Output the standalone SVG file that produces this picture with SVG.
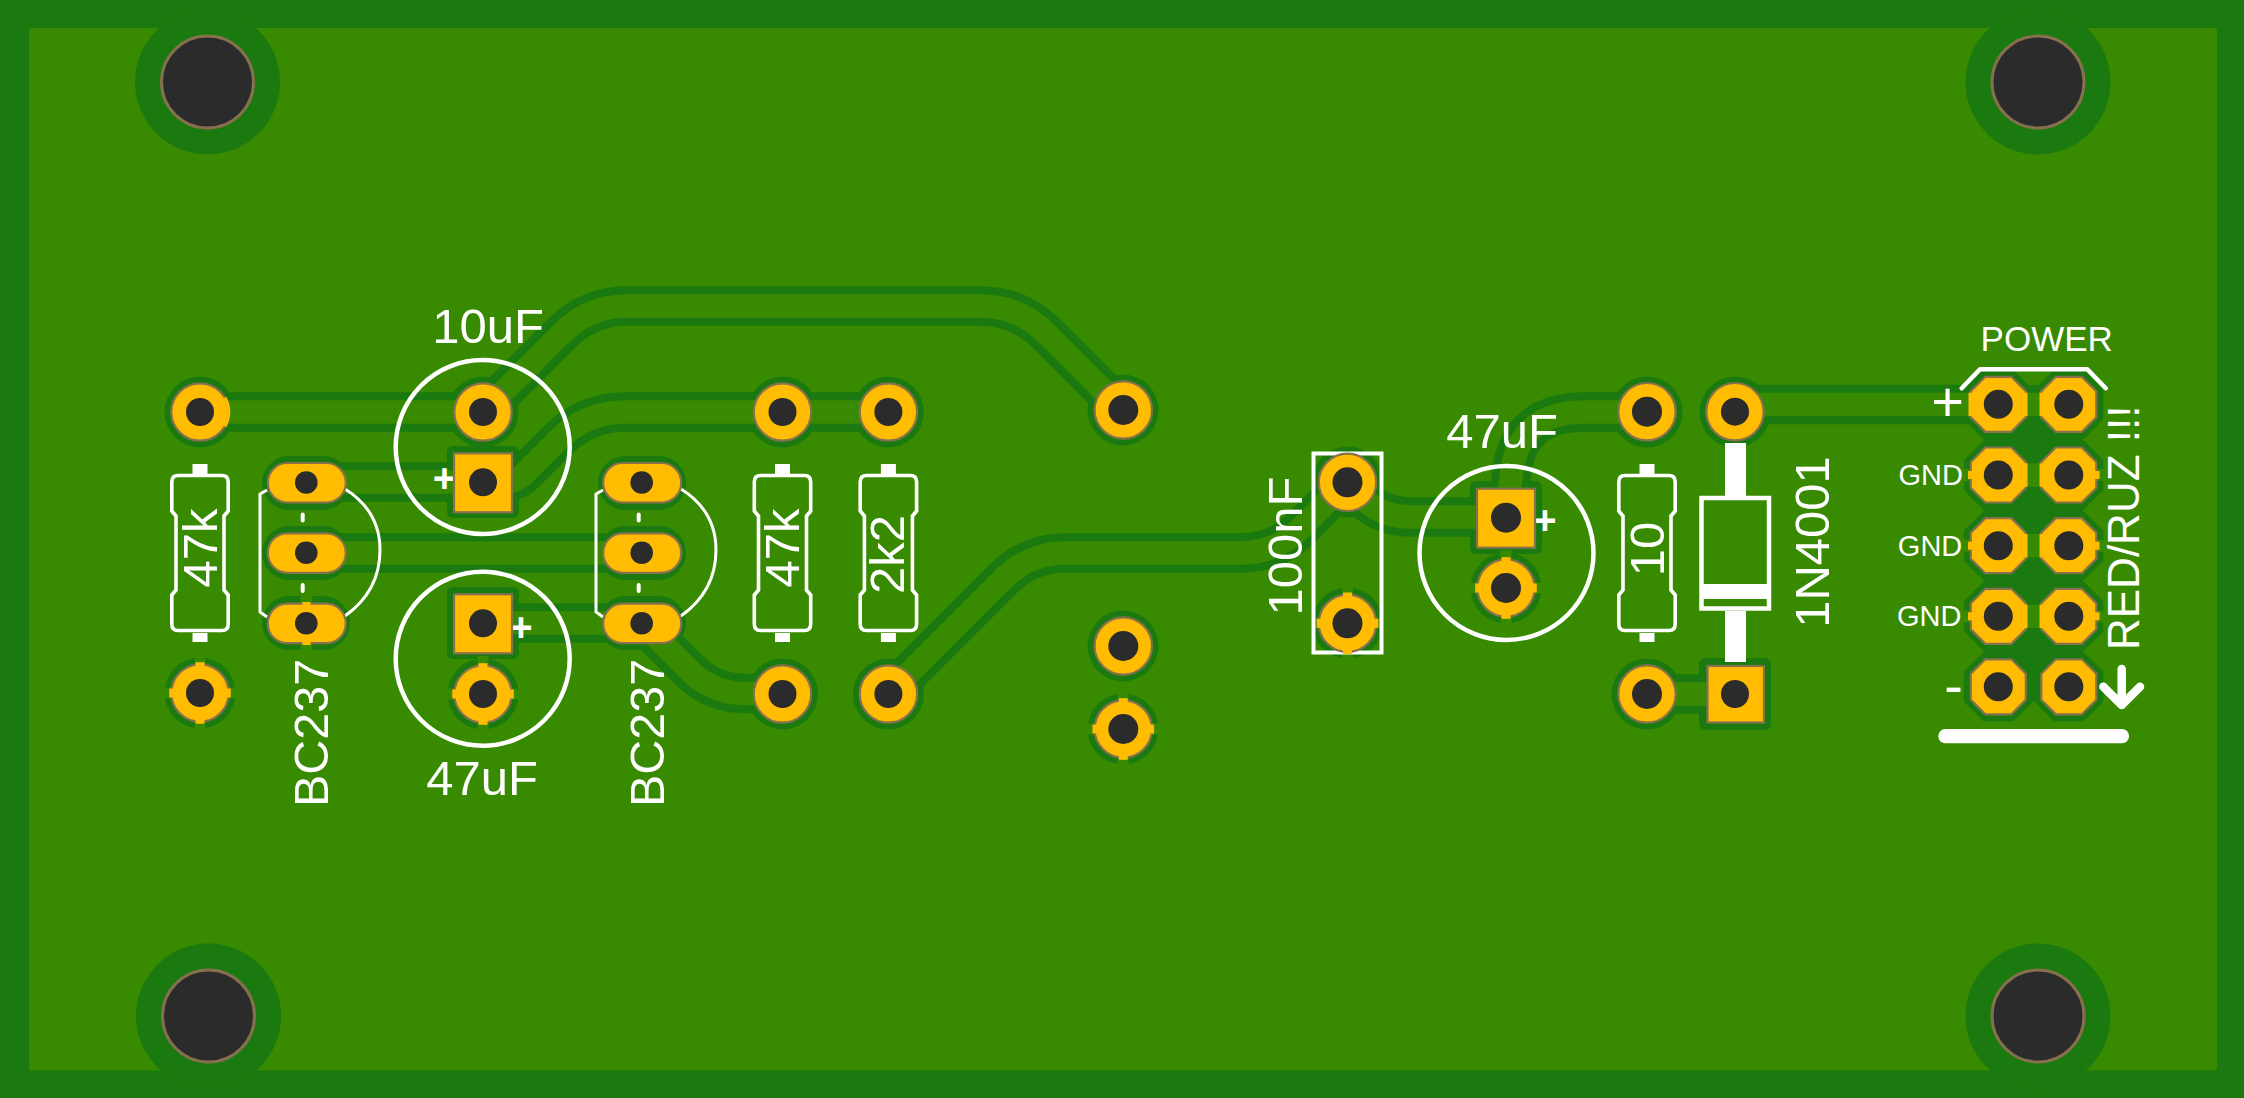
<svg xmlns="http://www.w3.org/2000/svg" width="2244" height="1098" viewBox="0 0 2244 1098">
<style>
.dk{fill:#1a7a0f}
.lt{fill:#388a00}
.yl{fill:#ffbc00}
.wh{fill:#fff}
.tdk{fill:none;stroke:#1a7a0f;stroke-width:39.5}
.tlt{fill:none;stroke:#388a00;stroke-width:23.5}
.ed{fill:#ffbc00;stroke:#87704d;stroke-width:2.2}
.en{fill:none;stroke:#ffbc00;stroke-width:3.2;stroke-dasharray:60 300}
.hole{fill:#2b2b2b}
.mh{fill:#2b2b2b;stroke:#87704d;stroke-width:3}
.s{fill:none;stroke:#fff;stroke-width:4}
.s3{fill:none;stroke:#fff;stroke-width:3}
.s5{fill:none;stroke:#fff;stroke-width:4.5;stroke-linecap:round;stroke-linejoin:round}
text{font-family:"Liberation Sans",Arial,sans-serif;fill:#fff}
.t{font-size:48.5px}
.tm{font-size:49px;text-anchor:middle}
.g{font-size:29px;text-anchor:end}
.p{font-size:40px;font-weight:bold;text-anchor:middle}
</style>
<defs>
<circle id="ha" r="35.5"/>
<g id="rp"><circle r="28.7" class="ed"/></g>
<rect id="sp" x="-29" y="-29" width="58" height="59" class="ed"/>
<rect id="ov" x="-38.5" y="-19.5" width="78" height="39.5" rx="19.5" class="ed"/>
<polygon id="oc" class="ed" points="-13,-27.5 13,-27.5 27.5,-13 27.5,13 13,27.5 -13,27.5 -27.5,13 -27.5,-13"/>
<polygon id="och" points="-15,-34.5 15,-34.5 34.5,-15 34.5,15 15,34.5 -15,34.5 -34.5,15 -34.5,-15"/>
<polygon id="ocg" points="-15,0 0,-15 71,-15 85,0 71,15 0,15"/>
<g id="res">
<path class="s" style="stroke-width:3.6" d="M-22-77.5H22Q28.2-77.5 28.2-71V-42L24-37V37L28.2 42V71Q28.2 77.5 22 77.5H-22Q-28.2 77.5-28.2 71V42L-24 37V-37L-28.2-42V-71Q-28.2-77.5-22-77.5Z"/>
<rect class="wh" x="-7.5" y="-89" width="15" height="10"/>
<rect class="wh" x="-7.5" y="80" width="15" height="9"/>
</g>
<g id="th"><rect class="yl" x="-4.5" y="-30.8" width="9" height="61.6"/><rect class="yl" x="-30.8" y="-4.5" width="61.6" height="9"/></g>
<g id="ths"><rect class="lt" x="-5.5" y="-38" width="11" height="76"/><rect class="lt" x="-38" y="-5.5" width="76" height="11"/></g>
<g id="bcs">
<path class="s3" d="M7-66L0-62V56L7 61"/>
<path class="s3" d="M85-67Q120-45 120-6Q120 35 85 60"/>
<rect class="wh" x="40.7" y="-43.5" width="4" height="10" rx="2"/>
<rect class="wh" x="40.7" y="27" width="4" height="10" rx="2"/>
</g>
</defs>

<g id="board">
<rect class="dk" width="2244" height="1098"/>
<rect class="lt" x="29" y="28" width="2188" height="1042.5" rx="3"/>
</g>

<g id="clearance">
<circle class="dk" cx="207.5" cy="82" r="72.5"/>
<circle class="dk" cx="2038" cy="82" r="72.5"/>
<circle class="dk" cx="208.5" cy="1016" r="72.5"/>
<circle class="dk" cx="2038" cy="1016" r="72.5"/>
<g class="dk">
<use href="#ha" x="200" y="412"/><use href="#ha" x="200" y="693"/>
<use href="#ha" x="483" y="412"/><use href="#ha" x="483" y="694"/>
<use href="#ha" x="782.5" y="412"/><use href="#ha" x="782.5" y="694"/>
<use href="#ha" x="888.4" y="412"/><use href="#ha" x="888.4" y="694"/>
<use href="#ha" x="1123" y="410"/><use href="#ha" x="1123" y="646"/><use href="#ha" x="1123" y="729"/>
<use href="#ha" x="1347.5" y="482"/><use href="#ha" x="1347.5" y="623"/>
<use href="#ha" x="1506" y="588"/>
<use href="#ha" x="1647" y="412"/><use href="#ha" x="1647" y="694"/>
<use href="#ha" x="1735" y="412"/>
<rect x="447" y="446" width="72" height="72" rx="6"/>
<rect x="447" y="587" width="72" height="72" rx="6"/>
<rect x="1470" y="481" width="72" height="73" rx="6"/>
<rect x="1699" y="658" width="72" height="72" rx="6"/>
<rect x="262" y="456" width="88" height="54" rx="27"/>
<rect x="262" y="526" width="88" height="54" rx="27"/>
<rect x="262" y="596" width="88" height="54" rx="27"/>
<rect x="598" y="456" width="88" height="54" rx="27"/>
<rect x="598" y="526" width="88" height="54" rx="27"/>
<rect x="598" y="596" width="88" height="54" rx="27"/>
<rect x="2028" y="385" width="11" height="316"/>
<use href="#ocg" x="1998" y="439.6"/><use href="#ocg" x="1998" y="510.3"/><use href="#ocg" x="1998" y="581"/><use href="#ocg" x="1998" y="651.5"/>
<use href="#och" x="1998.3" y="404.3"/><use href="#och" x="2068.8" y="404.3"/>
<use href="#och" x="1998.3" y="475"/><use href="#och" x="2068.8" y="475"/>
<use href="#och" x="1998.3" y="545.7"/><use href="#och" x="2068.8" y="545.7"/>
<use href="#och" x="1998.3" y="616.3"/><use href="#och" x="2068.8" y="616.3"/>
<use href="#och" x="1998.3" y="686.8"/><use href="#och" x="2068.8" y="686.8"/>
</g>
</g>

<g id="connectors">
<g class="tdk">
<path d="M200 412H483L562 333Q589 306 627 306H980Q1019 306 1046 333L1123 410"/>
<path d="M306 482H505Q516 482 525 473L558 440Q586 412 625 412H888"/>
<path d="M306 553H642"/>
<path d="M483 623H642"/>
<path d="M642 623L690 671Q713 693.5 745 693.5H782"/>
<path d="M888 694L1003 579Q1029 553 1065 553H1240Q1276 553 1300 529L1347 482"/>
<path d="M1347 482L1362 497Q1380 517 1412 517H1506"/>
<path d="M1506 517L1512 470Q1520 412 1585 412H1647"/>
<path d="M1647 694H1735"/>
<path d="M1735 404.5H1998"/>
</g>
<g class="tlt">
<path d="M200 412H483L562 333Q589 306 627 306H980Q1019 306 1046 333L1123 410"/>
<path d="M306 482H505Q516 482 525 473L558 440Q586 412 625 412H888"/>
<path d="M306 553H642"/>
<path d="M483 623H642"/>
<path d="M642 623L690 671Q713 693.5 745 693.5H782"/>
<path d="M888 694L1003 579Q1029 553 1065 553H1240Q1276 553 1300 529L1347 482"/>
<path d="M1347 482L1362 497Q1380 517 1412 517H1506"/>
<path d="M1506 517L1512 470Q1520 412 1585 412H1647"/>
<path d="M1647 694H1735"/>
<path d="M1735 404.5H1998"/>
</g>
</g>

<g id="thermals">
<use href="#ths" x="200" y="693"/>
<use href="#ths" x="483" y="694"/>
<use href="#ths" x="1123" y="729"/>
<use href="#ths" x="1347.5" y="623"/>
<use href="#ths" x="1506" y="588"/>
<rect class="lt" x="300.5" y="596" width="12" height="54"/>
<rect class="lt" x="1963" y="469" width="8" height="12"/><rect class="lt" x="2096" y="469" width="8" height="12"/>
<rect class="lt" x="1963" y="539.7" width="8" height="12"/><rect class="lt" x="2096" y="539.7" width="8" height="12"/>
<rect class="lt" x="1963" y="610.3" width="8" height="12"/><rect class="lt" x="2096" y="610.3" width="8" height="12"/>
<rect class="lt" x="2027" y="392.7" width="13" height="23.4"/>
<rect class="lt" x="2027" y="463.3" width="13" height="23.4"/>
<rect class="lt" x="2027" y="534" width="13" height="23.4"/>
<rect class="lt" x="2027" y="604.6" width="13" height="23.4"/>
</g>

<g id="H1"><circle class="mh" cx="207.5" cy="82" r="46"/></g>
<g id="H2"><circle class="mh" cx="2038" cy="82" r="46"/></g>
<g id="H3"><circle class="mh" cx="208.5" cy="1016" r="46"/></g>
<g id="H4"><circle class="mh" cx="2038" cy="1016" r="46"/></g>

<g id="R1">
<use href="#res" x="200" y="553"/>
<text class="tm" transform="translate(217 548) rotate(-90)">47k</text>
<use href="#rp" x="200" y="412"/><circle class="en" pathLength="360" transform="translate(200 412) rotate(-30)" r="28.7"/><circle class="hole" cx="200" cy="412" r="14"/>
<use href="#rp" x="200" y="693"/><use href="#th" x="200" y="693"/><circle class="hole" cx="200" cy="693" r="14"/>
</g>

<g id="Q1">
<use href="#bcs" x="260" y="556"/>
<text class="t" transform="translate(328 807) rotate(-90)">BC237</text>
<use href="#ov" x="306.3" y="482.5"/><circle class="hole" cx="306.3" cy="482.5" r="11.3"/>
<use href="#ov" x="306.3" y="552.8"/><circle class="hole" cx="306.3" cy="552.8" r="11.3"/>
<use href="#ov" x="306.3" y="623.2"/><rect class="yl" x="302.5" y="602" width="8" height="43"/><circle class="hole" cx="306.3" cy="623.2" r="11.3"/>
</g>

<g id="C1">
<circle class="s" style="stroke-width:4.5" cx="482.7" cy="447" r="87"/>
<text class="tm" x="488" y="343">10uF</text>
<text class="p" x="444.4" y="492">+</text>
<use href="#rp" x="483" y="412"/><circle class="hole" cx="483" cy="412" r="14"/>
<use href="#sp" x="483" y="482.3"/><circle class="hole" cx="483" cy="482.3" r="14"/>
</g>

<g id="C2">
<circle class="s" style="stroke-width:4.5" cx="482.7" cy="658.7" r="87"/>
<text class="tm" x="482" y="795">47uF</text>
<text class="p" x="521" y="641">+</text>
<use href="#sp" x="483" y="623.3"/><circle class="hole" cx="483" cy="623.3" r="14"/>
<use href="#rp" x="483" y="694"/><use href="#th" x="483" y="694"/><circle class="hole" cx="483" cy="694" r="14"/>
</g>

<g id="Q2">
<use href="#bcs" x="596" y="556"/>
<text class="t" transform="translate(664 807) rotate(-90)">BC237</text>
<use href="#ov" x="641.7" y="482.5"/><circle class="hole" cx="641.7" cy="482.5" r="11.3"/>
<use href="#ov" x="641.7" y="552.8"/><circle class="hole" cx="641.7" cy="552.8" r="11.3"/>
<use href="#ov" x="641.7" y="623.2"/><circle class="hole" cx="641.7" cy="623.2" r="11.3"/>
</g>

<g id="R2">
<use href="#res" x="782.5" y="553"/>
<text class="tm" transform="translate(799 548) rotate(-90)">47k</text>
<use href="#rp" x="782.5" y="412"/><circle class="hole" cx="782.5" cy="412" r="14"/>
<use href="#rp" x="782.5" y="694"/><circle class="hole" cx="782.5" cy="694" r="14"/>
</g>

<g id="R3">
<use href="#res" x="888.4" y="553"/>
<text class="tm" transform="translate(904 554.5) rotate(-90)">2k2</text>
<use href="#rp" x="888.4" y="412"/><circle class="hole" cx="888.4" cy="412" r="14"/>
<use href="#rp" x="888.4" y="694"/><circle class="hole" cx="888.4" cy="694" r="14"/>
</g>

<g id="TP1"><use href="#rp" x="1123.3" y="410"/><circle class="hole" cx="1123.3" cy="410" r="15"/></g>
<g id="TP2"><use href="#rp" x="1123.3" y="646"/><circle class="hole" cx="1123.3" cy="646" r="15"/></g>
<g id="TP3"><use href="#rp" x="1123.3" y="729"/><use href="#th" x="1123.3" y="729"/><circle class="hole" cx="1123.3" cy="729" r="15"/></g>

<g id="C3">
<rect class="s" x="1313.5" y="453.5" width="68" height="199"/>
<text class="tm" transform="translate(1302 546) rotate(-90)">100nF</text>
<use href="#rp" x="1347.5" y="482.3"/><circle class="hole" cx="1347.5" cy="482.3" r="15"/>
<use href="#rp" x="1347.5" y="623.3"/><use href="#th" x="1347.5" y="623.3"/><circle class="hole" cx="1347.5" cy="623.3" r="15"/>
</g>

<g id="C4">
<circle class="s" style="stroke-width:4.5" cx="1506.5" cy="553" r="87"/>
<text class="tm" x="1502" y="448">47uF</text>
<text class="p" x="1545" y="534">+</text>
<use href="#sp" x="1506" y="517.7"/><circle class="hole" cx="1506" cy="517.7" r="15"/>
<use href="#rp" x="1506" y="588"/><use href="#th" x="1506" y="588"/><circle class="hole" cx="1506" cy="588" r="15"/>
</g>

<g id="R4">
<use href="#res" x="1647" y="553"/>
<text class="tm" transform="translate(1664 549) rotate(-90)">10</text>
<use href="#rp" x="1647" y="411.7"/><circle class="hole" cx="1647" cy="411.7" r="15"/>
<use href="#rp" x="1647" y="694"/><circle class="hole" cx="1647" cy="694" r="15"/>
</g>

<g id="D1">
<rect class="wh" x="1725" y="443" width="21" height="53"/>
<rect class="wh" x="1725" y="611" width="21" height="51"/>
<rect class="s" style="stroke-width:4.5" x="1701.5" y="498" width="67.5" height="110.5"/>
<rect class="wh" x="1701.5" y="584" width="67.5" height="15"/>
<text class="tm" transform="translate(1829 542) rotate(-90)">1N4001</text>
<use href="#rp" x="1735" y="411.7"/><circle class="hole" cx="1735" cy="411.7" r="14"/>
<rect class="ed" x="1707.5" y="666" width="56.5" height="56.5"/><circle class="hole" cx="1735" cy="694" r="14"/>
</g>

<g id="J1">
<path class="s5" d="M1961.7 388.3L1980 369.3H2087.3L2105.7 388.3"/>
<text x="2046.7" y="350.7" style="font-size:35px;text-anchor:middle">POWER</text>
<text x="1947.7" y="421" style="font-size:56px;text-anchor:middle">+</text>
<text class="g" x="1963" y="485">GND</text>
<text class="g" x="1962.3" y="555.7">GND</text>
<text class="g" x="1961.5" y="625.7">GND</text>
<text x="1953.6" y="705" style="font-size:56px;text-anchor:middle">-</text>
<text transform="translate(2139.3 650) rotate(-90)" style="font-size:44px">RED/RUZ !!!</text>
<path d="M2121.7 669V705M2103.3 686.7L2121.7 705L2140 686.7" fill="none" stroke="#fff" stroke-width="8.5" stroke-linecap="round" stroke-linejoin="round"/>
<rect class="wh" x="1938.3" y="729" width="190.7" height="14.3" rx="7"/>
<use href="#oc" x="1998.3" y="404.3"/><use href="#oc" x="2068.8" y="404.3"/>
<use href="#oc" x="1998.3" y="475"/><use href="#oc" x="2068.8" y="475"/>
<use href="#oc" x="1998.3" y="545.7"/><use href="#oc" x="2068.8" y="545.7"/>
<use href="#oc" x="1998.3" y="616.3"/><use href="#oc" x="2068.8" y="616.3"/>
<use href="#oc" x="1998.3" y="686.8"/><use href="#oc" x="2068.8" y="686.8"/>
<g class="yl">
<rect x="2024" y="392.7" width="3.5" height="23.4"/><rect x="2039.5" y="392.7" width="3.5" height="23.4"/><rect x="1968.5" y="392.7" width="3.5" height="23.4"/>
<rect x="2024" y="463.3" width="3.5" height="23.4"/><rect x="2039.5" y="463.3" width="3.5" height="23.4"/>
<rect x="2024" y="534" width="3.5" height="23.4"/><rect x="2039.5" y="534" width="3.5" height="23.4"/>
<rect x="2024" y="604.6" width="3.5" height="23.4"/><rect x="2039.5" y="604.6" width="3.5" height="23.4"/>
<rect x="1968" y="471" width="5" height="8"/><rect x="2095" y="471" width="4.5" height="8"/>
<rect x="1968" y="541.7" width="5" height="8"/><rect x="2095" y="541.7" width="4.5" height="8"/>
<rect x="1968" y="612.3" width="5" height="8"/><rect x="2095" y="612.3" width="4.5" height="8"/>
</g>
<g class="hole">
<circle cx="1998.3" cy="404.3" r="14.5"/><circle cx="2068.8" cy="404.3" r="14.5"/>
<circle cx="1998.3" cy="475" r="14.5"/><circle cx="2068.8" cy="475" r="14.5"/>
<circle cx="1998.3" cy="545.7" r="14.5"/><circle cx="2068.8" cy="545.7" r="14.5"/>
<circle cx="1998.3" cy="616.3" r="14.5"/><circle cx="2068.8" cy="616.3" r="14.5"/>
<circle cx="1998.3" cy="686.8" r="14.5"/><circle cx="2068.8" cy="686.8" r="14.5"/>
</g>
</g>
</svg>
